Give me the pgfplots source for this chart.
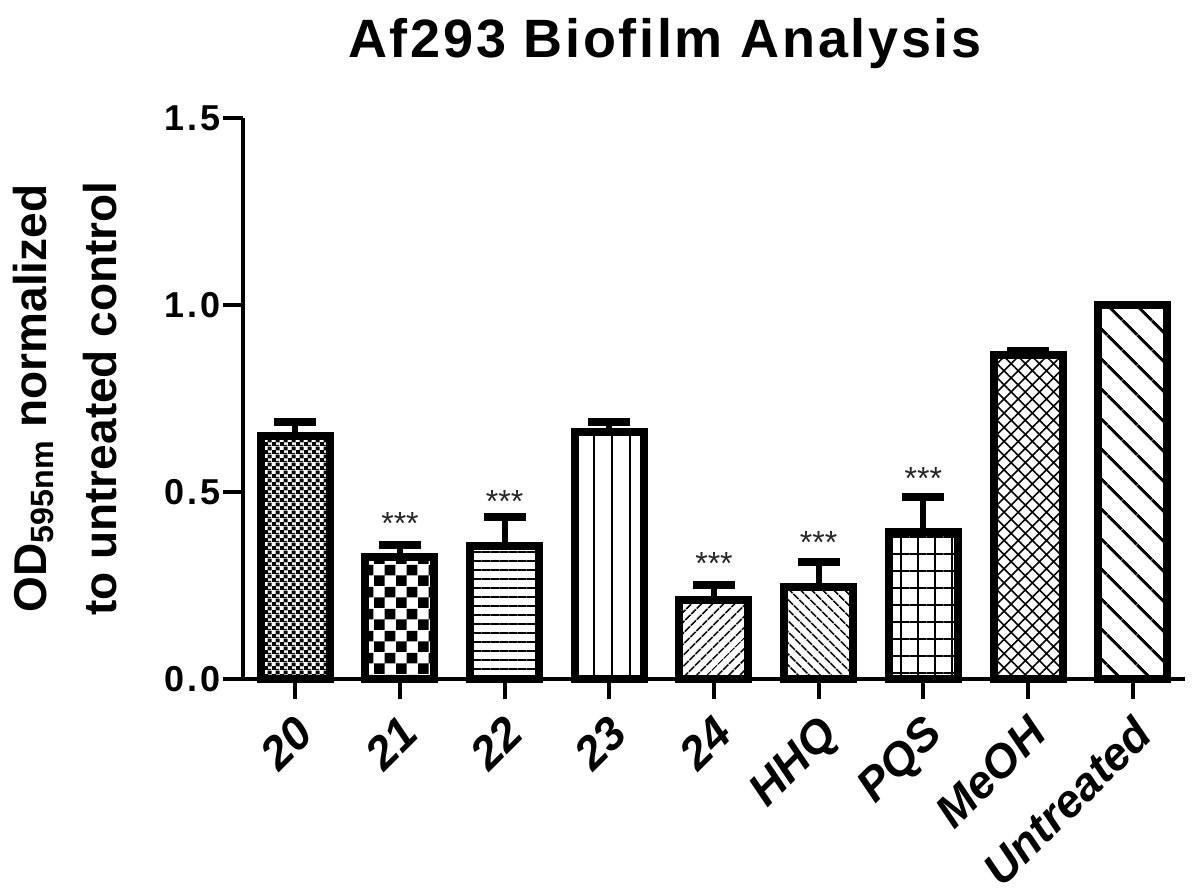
\documentclass[border=0pt]{standalone}
\usepackage{fontspec}
\setmainfont{Liberation Sans}
\usepackage{pgfplots}
\pgfplotsset{compat=1.18}
\usetikzlibrary{patterns,patterns.meta}

% checker fills that patterns.meta does not have
\pgfdeclarepatternformonly{smallchecker}{\pgfpointorigin}{\pgfpoint{4pt}{4pt}}{\pgfpoint{4pt}{4pt}}{%
  \pgfpathrectangle{\pgfpointorigin}{\pgfpoint{2.2pt}{2.2pt}}%
  \pgfpathrectangle{\pgfpoint{2pt}{2pt}}{\pgfpoint{2.2pt}{2.2pt}}%
  \pgfpathrectangle{\pgfpointorigin}{\pgfpoint{4pt}{0.6pt}}%
  \pgfusepath{fill}}
\pgfdeclarepatternformonly{bigchecker}{\pgfpointorigin}{\pgfpoint{11pt}{11pt}}{\pgfpoint{11pt}{11pt}}{%
  \pgfpathrectangle{\pgfpointorigin}{\pgfpoint{5.5pt}{5.5pt}}%
  \pgfpathrectangle{\pgfpoint{5.5pt}{5.5pt}}{\pgfpoint{5.5pt}{5.5pt}}%
  \pgfusepath{fill}}

\pgfplotsset{
  mybar/.style={ybar, bar width=34.5pt, bar shift=0pt, draw=black, line width=4pt,
    line join=miter,
    error bars/y dir=plus, error bars/y explicit,
    error bars/error mark=|,
    error bars/error bar style={line width=3pt, black},
    error bars/error mark options={line width=4pt, mark size=10.5pt, black}},
}

\begin{document}
\begin{tikzpicture}
\useasboundingbox (-121.5pt,-107.5pt) rectangle (478.5pt,339.5pt);
\begin{axis}[
  scale only axis, width=471pt, height=280.5pt,
  xmin=-0.5, xmax=8.5, ymin=0, ymax=1.5,
  clip=false,
  axis lines=left,
  axis line style={-, line width=2pt},
  tick align=outside,
  major tick length=10pt,
  tick style={line width=2pt, black},
  xtick={0,...,8},
  xticklabels={20,21,22,23,24,HHQ,PQS,MeOH,Untreated},
  xticklabel style={font=\fontsize{23}{23}\selectfont\bfseries\itshape,
    xshift=-1pt, yshift=-7pt, rotate=45, anchor=north east, inner sep=0pt},
  ytick={0,0.5,1.0,1.5},
  yticklabel style={font=\fontsize{18}{18}\selectfont\bfseries\addfontfeature{LetterSpace=8},
    inner sep=1pt,
    /pgf/number format/.cd, fixed, fixed zerofill, precision=1, assume math mode=true},
  title={\addfontfeature{LetterSpace=5}Af293 Biofilm Analysis},
  title style={font=\fontsize{27}{27}\selectfont\bfseries,
    at={(axis description cs:0.448,1)}, anchor=base, yshift=24pt},
  ylabel={OD\textsubscript{595nm} normalized\\to untreated control},
  ylabel style={font=\fontsize{23}{35}\selectfont\bfseries, align=center,
    at={(axis description cs:-0.189,0.5)}, anchor=center},
]
\addplot[mybar, pattern=smallchecker] coordinates {(0,0.650) +- (0,0.037)};
\addplot[mybar, pattern=bigchecker] coordinates {(1,0.326) +- (0,0.032)};
\addplot[mybar, pattern={Lines[angle=0,distance=4.5pt,line width=1pt]}] coordinates {(2,0.356) +- (0,0.077)};
\addplot[mybar, pattern={Lines[angle=90,distance=9pt,line width=1pt]}] coordinates {(3,0.660) +- (0,0.027)};
\addplot[mybar, pattern={Lines[angle=45,distance=4pt,line width=0.9pt]}] coordinates {(4,0.210) +- (0,0.040)};
\addplot[mybar, pattern={Lines[angle=-45,distance=4pt,line width=0.9pt]}] coordinates {(5,0.246) +- (0,0.067)};
\addplot[mybar, pattern={Hatch[angle=0,distance=8.5pt,line width=1pt]}] coordinates {(6,0.393) +- (0,0.094)};
\addplot[mybar, pattern={Hatch[angle=45,distance=5pt,line width=0.8pt]}] coordinates {(7,0.865) +- (0,0.012)};
\addplot[ybar, bar width=34.5pt, bar shift=0pt, draw=black, line width=4pt, line join=miter,
  pattern={Lines[angle=-45,distance=10.5pt,line width=1.5pt]}] coordinates {(8,1.000)};
% significance marks
\addplot[draw=none, mark=none, nodes near coords={***},
  every node near coord/.append style={anchor=center, font=\fontsize{16}{16}\selectfont, text=black!85}]
  coordinates {(1,0.415) (2,0.475) (4,0.310) (5,0.365) (6,0.537)};
\end{axis}
\end{tikzpicture}
\end{document}
